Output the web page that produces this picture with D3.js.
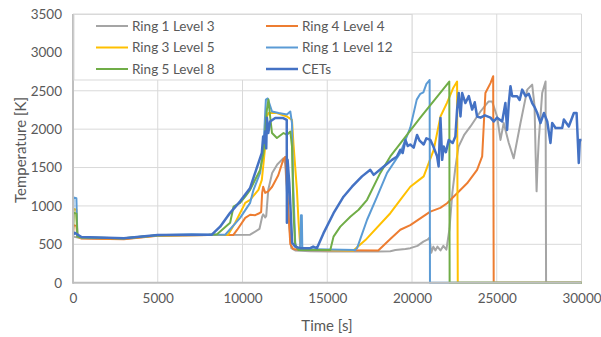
<!DOCTYPE html>
<html>
<head>
<meta charset="utf-8">
<script src="https://cdn.jsdelivr.net/npm/d3@7"></script>
<style>
body{margin:0;background:#fff;}
text{font-family:Lato,"Open Sans",sans-serif;}
</style>
</head>
<body>
<svg id="chart" width="601" height="337"></svg>
<script>
// series: [time s, temperature K]
const seriesNames = ["Ring 1 Level 3","Ring 4 Level 4","Ring 3 Level 5","Ring 1 Level 12","Ring 5 Level 8","CETs"];
const seriesColors = ["#A5A5A5","#ED7D31","#FFC000","#5B9BD5","#70AD47","#4472C4"];
const xTicks = [0,5000,10000,15000,20000,25000,30000];
const yTicks = [0,500,1000,1500,2000,2500,3000,3500];

const ring1Level3 = [[0,600],[500,580],[3000,570],[5000,615],[8000,620],[10450,625],[11000,700],[11160,860],[11220,890],[11340,850],[11400,870],[11520,1210],[11750,1430],[12050,1540],[12400,1620],[12520,1550],[12700,900],[12880,450],[13110,420],[14000,410],[15180,405],[18010,405],[18720,410],[19020,425],[19610,440],[19900,450],[20320,480],[20670,535],[20910,560],[21030,585],[21140,390],[21260,470],[21380,420],[21500,470],[21680,420],[21850,480],[22030,430],[22210,700],[22380,1170],[22560,1500],[22740,1770],[23090,1930],[23450,2035],[24040,2230],[24510,2360],[24730,2360],[25020,2165],[25220,1860],[25410,2080],[25710,1820],[26000,1620],[26400,2080],[26800,2515],[27090,2580],[27230,2300],[27290,1700],[27350,1190],[27400,1500],[27480,1860],[27680,2470],[27880,2620],[27910,0],[30000,0]];

const ring4Level4 = [[0,620],[30,750],[200,740],[260,600],[500,575],[3000,565],[5000,610],[8000,620],[9450,620],[9690,690],[10160,845],[10450,885],[10750,880],[10990,905],[11100,920],[11160,1170],[11220,1250],[11340,1170],[11520,1190],[11750,1250],[12110,1400],[12400,1600],[12520,1640],[12640,1200],[12820,500],[12990,440],[13410,425],[18010,420],[18720,570],[19310,690],[19900,750],[21080,925],[21670,975],[22070,1035],[22660,1165],[23250,1295],[23840,1470],[24140,1645],[24230,2035],[24330,2470],[24630,2600],[24790,2690],[24820,0],[30000,0]];

const ring3Level5 = [[0,620],[30,960],[200,950],[260,600],[500,585],[3000,575],[5000,615],[8000,622],[9150,625],[9570,780],[10160,1040],[10450,1080],[10940,1210],[11140,1340],[11340,1775],[11440,2165],[11530,2210],[12030,2210],[12620,2165],[12920,2120],[13010,1800],[13210,1210],[13310,775],[13410,470],[13530,430],[16540,420],[17250,555],[18720,905],[19310,1080],[19900,1250],[20690,1385],[21280,1730],[21680,2165],[22070,2345],[22440,2540],[22660,2620],[22700,0],[30000,0]];

const ring1Level12 = [[0,620],[30,1110],[200,1100],[260,600],[500,590],[3000,578],[5000,618],[7000,630],[8000,625],[8980,625],[9860,845],[10450,1040],[10650,1210],[11040,1430],[11240,1775],[11380,2385],[11490,2400],[11740,2230],[12130,2210],[12620,2190],[12820,2230],[12920,2080],[12980,1340],[13110,515],[13210,450],[13400,440],[13450,880],[13500,880],[13530,440],[16650,425],[16760,450],[17350,820],[17940,1120],[18530,1430],[19310,1690],[19900,2020],[20280,2385],[20490,2460],[20670,2480],[20850,2590],[21000,2630],[21040,2640],[21060,0],[30000,0]];

const ring5Level8 = [[0,620],[30,910],[200,900],[260,600],[500,590],[3000,578],[5000,618],[8000,625],[8500,630],[9270,780],[9470,990],[9860,1040],[10160,1120],[10450,1210],[11040,1470],[11240,1690],[11440,2255],[11530,2385],[11630,2165],[11740,1950],[12030,1885],[12420,1950],[12620,1925],[12820,1970],[12920,1775],[13010,905],[13110,490],[13310,425],[15180,425],[15370,600],[15770,730],[16360,860],[16850,950],[17350,1080],[18130,1430],[18720,1645],[20490,2150],[22200,2620],[22220,0],[30000,0]];

const cets = [[0,620],[100,650],[500,595],[3000,580],[5000,620],[8000,625],[8190,625],[8680,730],[9270,910],[9860,1060],[10450,1235],[10700,1400],[11140,1690],[11220,1905],[11280,1820],[11340,1970],[11400,1750],[11440,2150],[11520,1950],[11630,2100],[11930,2145],[12400,2145],[12610,2120],[12620,780],[12660,1600],[12760,1300],[12930,520],[13110,470],[13410,450],[14000,450],[14170,470],[14390,450],[14780,645],[15370,905],[15960,1120],[16460,1250],[17050,1385],[17540,1470],[17740,1405],[18230,1495],[18820,1600],[19100,1640],[19310,1730],[19450,1690],[19610,1860],[19750,1780],[19900,1800],[20100,1760],[20300,1925],[20450,1850],[20690,1800],[20850,1880],[21080,1860],[21250,1780],[21480,1645],[21570,1515],[21680,2145],[21780,1600],[21870,1775],[22000,1700],[22170,1860],[22400,1820],[22560,1905],[22660,2255],[22760,2470],[22860,2165],[22960,2470],[23150,2340],[23350,2430],[23550,2255],[23700,2350],[23840,2165],[24040,2150],[24300,2180],[24630,2150],[24820,2100],[25020,2150],[25320,2100],[25510,2340],[25610,1990],[25710,2340],[25810,2560],[25910,2430],[26200,2430],[26350,2380],[26500,2515],[26700,2430],[26890,2460],[27090,2340],[27250,2280],[27390,2210],[27580,2080],[27780,2210],[27980,2100],[28170,1820],[28270,2080],[28470,2015],[28860,2015],[28960,2125],[29250,2035],[29550,2210],[29710,2210],[29780,1860],[29840,1560],[29900,1860],[30000,1860]];

const allSeries = [ring1Level3, ring4Level4, ring3Level5, ring1Level12, ring5Level8, cets];

const svg = d3.select('#chart');
const plotLeft = 73, plotRight = 581.5, plotTop = 14, plotBottom = 282.7;

const x = d3.scaleLinear().domain([0,30000]).range([plotLeft,plotRight]);
const y = d3.scaleLinear().domain([0,3500]).range([plotBottom,plotTop]);

// gridlines
svg.append('g')
    .selectAll('line')
    .data(yTicks.slice(1))
    .enter().append('line')
    .attr('x1',plotLeft).attr('x2',plotRight)
    .attr('y1',d => y(d)).attr('y2',d => y(d))
    .attr('stroke','#d9d9d9').attr('stroke-width',1);
svg.append('g')
    .selectAll('line')
    .data(xTicks.slice(1))
    .enter().append('line')
    .attr('x1',d => x(d)).attr('x2',d => x(d))
    .attr('y1',plotTop).attr('y2',plotBottom)
    .attr('stroke','#d9d9d9').attr('stroke-width',1);

// axes (labels only, lines drawn separately)
const yAxis = svg.append('g')
    .attr('transform',`translate(${plotLeft},0)`)
    .call(d3.axisLeft(y).tickValues(yTicks).tickSize(0).tickPadding(11).tickFormat(d3.format('d')));
const xAxis = svg.append('g')
    .attr('transform',`translate(0,${plotBottom})`)
    .call(d3.axisBottom(x).tickValues(xTicks).tickSize(0).tickPadding(11).tickFormat(d3.format('d')));
[yAxis,xAxis].forEach(a => {
    a.select('.domain').remove();
    a.selectAll('text').attr('fill','#595959').style('font-size','13.5px').style('font-family','Lato, sans-serif');
});

// lines
const line = d3.line().x(d => x(d[0])).y(d => y(d[1]));
svg.append('g')
    .selectAll('path')
    .data(allSeries)
    .enter().append('path')
    .attr('d',line)
    .attr('fill','none')
    .attr('stroke',(d,i) => seriesColors[i])
    .attr('stroke-width',(d,i) => i == 5 ? 2.5 : 2)
    .attr('stroke-linejoin','round');

// axis lines
svg.append('line').attr('x1',plotLeft).attr('x2',plotLeft).attr('y1',plotTop).attr('y2',plotBottom+1)
    .attr('stroke','#bfbfbf').attr('stroke-width',2);
svg.append('line').attr('x1',plotLeft).attr('x2',plotRight).attr('y1',plotBottom).attr('y2',plotBottom)
    .attr('stroke','#bfbfbf').attr('stroke-width',2);

// legend
const legend = svg.append('g');
legend.append('rect')
    .attr('x',74).attr('y',14.5).attr('width',338).attr('height',65.5)
    .attr('fill','#fff').attr('stroke','#d9d9d9').attr('stroke-width',1);
const items = legend.selectAll('g')
    .data(seriesNames)
    .enter().append('g')
    .attr('transform',(d,i) => `translate(${i%2 == 0 ? 96 : 266},${26 + Math.floor(i/2)*21.5})`);
items.append('line')
    .attr('x1',0).attr('x2',32).attr('y1',0).attr('y2',0)
    .attr('stroke',(d,i) => seriesColors[i])
    .attr('stroke-width',(d,i) => i == 5 ? 2.5 : 2);
items.append('text')
    .attr('x',36).attr('y',0).attr('dy','0.35em')
    .attr('fill','#595959').style('font-size','13.5px')
    .text(d => d);

// axis titles
svg.append('text')
    .attr('transform','translate(21,150) rotate(-90)')
    .attr('text-anchor','middle').attr('dy','0.35em')
    .attr('fill','#595959').style('font-size','15px')
    .text('Temperature [K]');
svg.append('text')
    .attr('x',327).attr('y',326)
    .attr('text-anchor','middle').attr('dy','0.35em')
    .attr('fill','#595959').style('font-size','15px')
    .text('Time [s]');
</script>
</body>
</html>
